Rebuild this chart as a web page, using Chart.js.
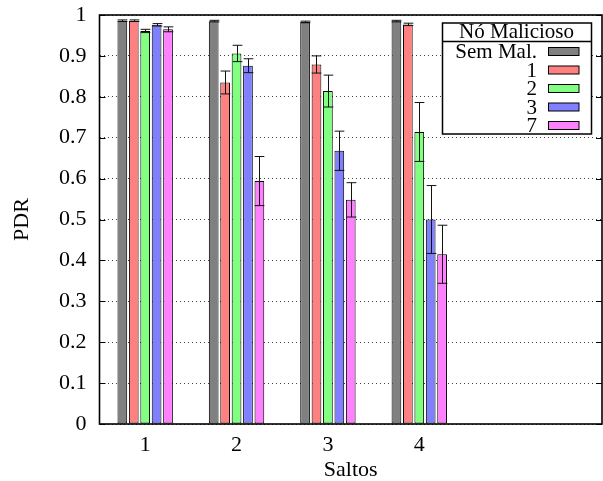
<!DOCTYPE html>
<html><head><meta charset="utf-8">
<script src="https://cdn.jsdelivr.net/npm/chart.js@4.4.1/dist/chart.umd.min.js"></script>
<style>html,body{margin:0;padding:0;background:#fff;overflow:hidden}#wrap{width:603px;height:481px;position:relative}</style>
</head><body><div id="wrap"><canvas id="c" width="603" height="481"></canvas></div>
<script>
// ---- data ----
const hops = [1, 2, 3, 4];
const tickLabels = ['1', '2', '3', '4'];
const legendTitle = 'Nó Malicioso';
const seriesNames = ['Sem Mal.', '1', '2', '3', '7'];
const pdrSemMal = [0.986, 0.985, 0.983, 0.985];
const pdrMal1   = [0.986, 0.835, 0.879, 0.977];
const pdrMal2   = [0.961, 0.906, 0.814, 0.714];
const pdrMal3   = [0.976, 0.876, 0.668, 0.500];
const pdrMal7   = [0.965, 0.594, 0.548, 0.415];
const errSemMal = [0.002, 0.002, 0.002, 0.002];
const errMal1   = [0.002, 0.028, 0.021, 0.003];
const errMal2   = [0.004, 0.020, 0.039, 0.072];
const errMal3   = [0.003, 0.017, 0.048, 0.083];
const errMal7   = [0.006, 0.060, 0.042, 0.071];
const yTicks = [0, 0.1, 0.2, 0.3, 0.4, 0.5, 0.6, 0.7, 0.8, 0.9, 1];

const seriesValues = [pdrSemMal, pdrMal1, pdrMal2, pdrMal3, pdrMal7];
const seriesErrors = [errSemMal, errMal1, errMal2, errMal3, errMal7];
const fills = ['#808080', '#ff8080', '#80ff80', '#8080ff', '#ff80ff'];
const FONT = "'Liberation Serif', 'DejaVu Serif', serif";

const datasets = seriesNames.map((name, i) => ({
  label: name,
  data: hops.map((h, j) => ({ x: h, y: seriesValues[i][j] })),
  errors: seriesErrors[i],
  backgroundColor: fills[i],
  borderColor: '#000',
  borderWidth: 1,
  borderSkipped: false,
  categoryPercentage: 0.625,
  barPercentage: 0.85
}));

const errorBars = {
  id: 'errorBars',
  afterDatasetsDraw(chart) {
    const ctx = chart.ctx, ys = chart.scales.y;
    ctx.save();
    ctx.strokeStyle = '#111';
    ctx.lineWidth = 1;
    chart.data.datasets.forEach((ds, i) => {
      const meta = chart.getDatasetMeta(i);
      meta.data.forEach((el, j) => {
        const v = ds.data[j].y, e = ds.errors[j];
        const yt = ys.getPixelForValue(v + e), yb = ys.getPixelForValue(v - e);
        const hw = el.width / 2;
        const x = Math.round(el.x) + 0.5;
        ctx.beginPath();
        ctx.moveTo(x, yt); ctx.lineTo(x, yb);
        ctx.moveTo(x - hw, yt); ctx.lineTo(x + hw, yt);
        ctx.moveTo(x - hw, yb); ctx.lineTo(x + hw, yb);
        ctx.stroke();
      });
    });
    // frame and inward ticks
    const a = chart.chartArea;
    ctx.strokeStyle = '#000';
    ctx.lineWidth = 1;
    ctx.beginPath();
    yTicks.forEach(t => {
      const y = Math.round(ys.getPixelForValue(t)) + 0.5;
      ctx.moveTo(a.left, y); ctx.lineTo(a.left + 6, y);
      ctx.moveTo(a.right, y); ctx.lineTo(a.right - 6, y);
    });
    ctx.stroke();
    ctx.lineWidth = 1.6;
    ctx.strokeRect(a.left, a.top, a.right - a.left, a.bottom - a.top);
    ctx.restore();
  }
};

const keyBox = {
  id: 'keyBox',
  afterDraw(chart) {
    const ctx = chart.ctx;
    const L = 442.5, T = 23, R = 591.5, B = 134, sep = 41.5;
    ctx.save();
    ctx.fillStyle = '#fff';
    ctx.fillRect(L, T, R - L, B - T);
    ctx.strokeStyle = '#000';
    ctx.lineWidth = 1.5;
    ctx.strokeRect(L, T, R - L, B - T);
    ctx.beginPath(); ctx.moveTo(L, sep); ctx.lineTo(R, sep); ctx.stroke();
    ctx.fillStyle = '#000';
    ctx.font = "21px " + FONT;
    ctx.textBaseline = 'middle';
    ctx.textAlign = 'center';
    ctx.fillText(legendTitle, 516.5, 32.5);
    ctx.textAlign = 'right';
    chart.data.datasets.forEach((ds, i) => {
      const cy = 51.5 + i * 18.5;
      ctx.fillStyle = '#000';
      ctx.fillText(ds.label, 537, cy + 1);
      ctx.fillStyle = ds.backgroundColor;
      ctx.fillRect(548.5, cy - 4, 30.5, 8);
      ctx.lineWidth = 1;
      ctx.strokeRect(548.5, cy - 4, 30.5, 8);
    });
    ctx.restore();
  }
};

new Chart(document.getElementById('c'), {
  type: 'bar',
  data: { datasets },
  options: {
    responsive: false,
    animation: false,
    devicePixelRatio: 1,
    layout: { padding: { top: 15, right: 1, bottom: 0, left: 0 } },
    plugins: { legend: { display: false }, tooltip: { enabled: false } },
    scales: {
      x: {
        type: 'linear',
        min: 0.5, max: 6,
        offset: false,
        grid: { display: false },
        border: { display: false },
        afterBuildTicks: s => { s.ticks = hops.map(v => ({ value: v })); },
        afterFit: s => { s.height = 57; s.paddingLeft = 0; s.paddingRight = 0; },
        ticks: {
          autoSkip: false, maxRotation: 0, padding: 0, color: '#000',
          font: { family: FONT, size: 22 },
          callback: v => { const k = hops.indexOf(v); return k >= 0 ? tickLabels[k] : ''; }
        },
        title: { display: true, text: 'Saltos', color: '#000', font: { family: FONT, size: 22 }, padding: { top: 0, bottom: -2 } }
      },
      y: {
        min: 0, max: 1,
        afterBuildTicks: s => { s.ticks = yTicks.map(v => ({ value: v })); },
        afterFit: s => { s.width = 99.5; s.paddingTop = 0; s.paddingBottom = 0; },
        grid: { color: 'rgba(0,0,0,0.75)', lineWidth: 1, drawTicks: false },
        border: { display: false, dash: [1, 3] },
        ticks: {
          padding: 13, color: '#000',
          font: { family: FONT, size: 22 },
          callback: v => (v === 0 || v === 1) ? String(v) : v.toFixed(1)
        },
        title: { display: true, text: 'PDR', color: '#000', font: { family: FONT, size: 22 }, padding: { top: 9, bottom: 0 } }
      }
    }
  },
  plugins: [errorBars, keyBox]
});
</script>
</body></html>
